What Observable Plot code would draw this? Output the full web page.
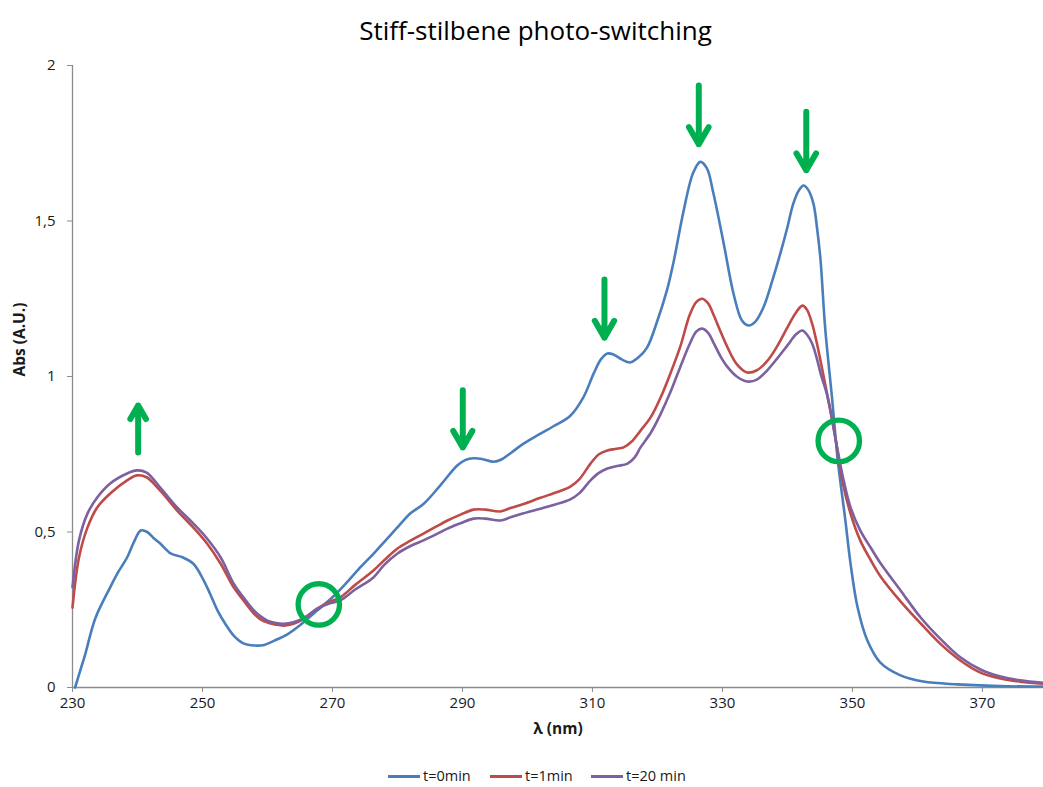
<!DOCTYPE html>
<html>
<head>
<meta charset="utf-8">
<script src="https://cdn.jsdelivr.net/npm/d3@7"></script>
<script src="https://cdn.jsdelivr.net/npm/@observablehq/plot@0.6"></script>
<style>
  html, body { margin: 0; padding: 0; background: #fff; }
  body { width: 1043px; height: 787px; overflow: hidden; font-family: "Open Sans", sans-serif; }
  #title { height: 50px; box-sizing: border-box; padding-top: 11px; padding-left: 28px; text-align: center; font-size: 26px; line-height: 38px; color: #000; }
  #chart svg text { fill: #1a1a1a; }
  #chart svg g[aria-label*="axis"] line, #chart svg g[aria-label*="axis"] path { stroke: #8c8c8c; }
  #legend { position: relative; height: 37px; }
  .item { position: absolute; top: 16px; display: flex; align-items: center; font-size: 14.5px; color: #1a1a1a; line-height: 20px; }
  .sw { display: inline-block; width: 32px; height: 3px; margin-right: 3px; }
</style>
</head>
<body>
<div id="title">Stiff-stilbene photo-switching</div>
<div id="chart"></div>
<div id="legend"></div>
<script>
// ---- data ----
const seriesNames = ["t=0min", "t=1min", "t=20 min"];
const seriesColors = ["#4a7ebb", "#be4b48", "#7d60a0"];
const xTicks = [230, 250, 270, 290, 310, 330, 350, 370];
const yTicks = [0, 0.5, 1, 1.5, 2];
const xLabel = "λ (nm)";
const yLabel = "Abs (A.U.)";

const wl0 = [230.4, 231.2, 232.0, 233.5, 235.8, 237.0, 238.4, 239.5, 240.5, 241.5, 242.5, 243.5, 245.1, 247.0, 248.6, 250.2, 251.2, 252.3, 253.5, 254.8, 256.3, 258.0, 259.5, 261.0, 263.0, 265.0, 267.5, 270.0, 272.0, 274.0, 276.3, 278.5, 280.5, 282.0, 284.0, 286.6, 289.2, 290.5, 291.7, 293.0, 294.8, 296.0, 297.5, 299.4, 302.0, 304.0, 306.6, 308.6, 310.2, 311.3, 312.3, 313.3, 314.5, 315.8, 317.0, 318.4, 320.0, 321.5, 322.5, 324.0, 325.5, 326.6, 327.6, 328.6, 330.2, 331.7, 333.0, 334.0, 335.0, 336.3, 337.7, 338.9, 340.0, 340.9, 341.8, 342.5, 343.2, 344.0, 344.6, 345.1, 345.8, 346.9, 347.4, 347.8, 348.9, 349.7, 350.8, 352.3, 354.3, 357.4, 360.9, 366.2, 373.8, 379.4];
const abs0 = [0.0, 0.055, 0.11, 0.222, 0.322, 0.37, 0.418, 0.47, 0.505, 0.50, 0.48, 0.463, 0.431, 0.418, 0.398, 0.344, 0.30, 0.248, 0.205, 0.167, 0.142, 0.135, 0.137, 0.15, 0.17, 0.2, 0.245, 0.29, 0.333, 0.38, 0.43, 0.48, 0.527, 0.56, 0.59, 0.65, 0.714, 0.732, 0.737, 0.735, 0.726, 0.733, 0.755, 0.784, 0.816, 0.84, 0.874, 0.933, 1.01, 1.055, 1.074, 1.07, 1.055, 1.045, 1.06, 1.093, 1.18, 1.28, 1.37, 1.53, 1.655, 1.69, 1.67, 1.59, 1.427, 1.267, 1.18, 1.164, 1.175, 1.222, 1.31, 1.395, 1.48, 1.556, 1.60, 1.614, 1.60, 1.556, 1.47, 1.373, 1.158, 0.923, 0.805, 0.72, 0.54, 0.40, 0.257, 0.151, 0.08, 0.039, 0.019, 0.01, 0.004, 0.003];

const wl1 = [230.0, 231.0, 232.3, 233.8, 235.8, 238.4, 239.9, 241.4, 243.5, 246.1, 248.6, 250.7, 252.8, 254.8, 256.3, 257.9, 259.0, 260.0, 261.3, 262.5, 264.0, 265.5, 267.7, 269.5, 271.2, 273.5, 276.3, 278.0, 280.0, 282.0, 284.0, 286.0, 287.7, 289.7, 291.7, 293.5, 295.8, 297.5, 299.4, 302.0, 304.5, 306.6, 308.0, 309.7, 311.0, 312.3, 313.5, 314.8, 316.0, 317.4, 319.0, 320.5, 322.0, 323.5, 325.0, 326.0, 326.9, 327.8, 328.6, 329.7, 330.8, 332.2, 333.8, 335.3, 336.9, 338.5, 340.0, 341.3, 342.3, 343.0, 343.8, 344.5, 345.1, 346.3, 347.4, 348.5, 349.7, 351.2, 352.8, 354.3, 357.4, 360.5, 363.5, 366.6, 369.7, 372.8, 375.8, 379.4];
const abs1 = [0.257, 0.418, 0.514, 0.579, 0.624, 0.666, 0.682, 0.676, 0.633, 0.569, 0.514, 0.463, 0.398, 0.322, 0.28, 0.238, 0.218, 0.209, 0.202, 0.199, 0.205, 0.22, 0.254, 0.275, 0.29, 0.33, 0.376, 0.41, 0.447, 0.472, 0.495, 0.518, 0.537, 0.556, 0.572, 0.572, 0.566, 0.578, 0.59, 0.61, 0.628, 0.646, 0.67, 0.72, 0.75, 0.762, 0.767, 0.772, 0.79, 0.826, 0.87, 0.933, 1.01, 1.095, 1.20, 1.24, 1.25, 1.235, 1.20, 1.145, 1.093, 1.04, 1.013, 1.02, 1.05, 1.10, 1.158, 1.205, 1.228, 1.215, 1.17, 1.11, 1.05, 0.923, 0.80, 0.66, 0.56, 0.473, 0.41, 0.358, 0.277, 0.206, 0.141, 0.087, 0.048, 0.029, 0.019, 0.012];

const wl20 = [230.0, 231.0, 232.3, 233.8, 235.8, 238.4, 239.9, 241.4, 243.5, 246.1, 248.6, 250.7, 252.8, 254.8, 256.3, 257.9, 259.0, 260.0, 261.3, 262.5, 264.0, 265.5, 267.7, 269.5, 271.2, 273.5, 276.3, 278.0, 280.0, 282.0, 284.0, 286.0, 287.7, 289.7, 291.7, 293.5, 295.8, 297.5, 299.4, 302.0, 304.5, 306.6, 308.0, 309.7, 311.0, 312.3, 313.8, 315.4, 316.5, 317.4, 319.0, 320.5, 322.0, 323.5, 325.0, 326.0, 326.9, 327.8, 328.6, 329.7, 330.8, 332.2, 333.8, 335.3, 336.9, 338.5, 340.0, 341.3, 342.3, 343.0, 343.8, 344.5, 345.1, 346.2, 347.4, 348.5, 349.7, 351.2, 352.8, 354.3, 357.4, 360.5, 363.5, 366.6, 369.7, 372.8, 375.8, 379.4];
const abs20 = [0.322, 0.473, 0.559, 0.611, 0.656, 0.688, 0.698, 0.691, 0.643, 0.579, 0.527, 0.479, 0.418, 0.334, 0.29, 0.248, 0.228, 0.215, 0.207, 0.205, 0.21, 0.222, 0.254, 0.27, 0.28, 0.315, 0.354, 0.395, 0.431, 0.455, 0.473, 0.493, 0.511, 0.528, 0.543, 0.543, 0.537, 0.548, 0.56, 0.575, 0.59, 0.605, 0.625, 0.666, 0.69, 0.704, 0.712, 0.72, 0.74, 0.772, 0.82, 0.88, 0.95, 1.03, 1.106, 1.145, 1.154, 1.14, 1.11, 1.065, 1.03, 1.0, 0.984, 0.99, 1.02, 1.06, 1.10, 1.135, 1.148, 1.135, 1.106, 1.06, 1.01, 0.933, 0.80, 0.68, 0.58, 0.505, 0.45, 0.40, 0.312, 0.225, 0.157, 0.097, 0.058, 0.035, 0.023, 0.015];

// annotations (green arrows and isosbestic circles)
const arrowX = [240.1, 290.05, 311.85, 326.36, 342.9];
const arrowFrom = [0.756, 0.956, 1.312, 1.936, 1.851];
const arrowTo = [0.907, 0.772, 1.125, 1.747, 1.663];
const circleX = [267.9, 347.9];
const circleY = [0.267, 0.793];

// ---- build table ----
const wls = [wl0, wl1, wl20];
const absv = [abs0, abs1, abs20];
const table = [];
seriesNames.forEach((s, i) => wls[i].forEach((w, j) => table.push({series: s, wl: w, abs: absv[i][j]})));
const arrows = arrowX.map((x, i) => ({x, y1: arrowFrom[i], y2: arrowTo[i]}));
const circles = circleX.map((x, i) => ({x, y: circleY[i]}));

const chart = Plot.plot({
  width: 1043,
  height: 700,
  marginTop: 15,
  marginBottom: 63,
  marginLeft: 72,
  marginRight: 0,
  style: {fontFamily: "'Open Sans', sans-serif", fontSize: "15px", color: "#1a1a1a", background: "#fff"},
  x: {domain: [230, 379.4], ticks: xTicks, tickSize: 5, tickPadding: 5, label: null},
  y: {domain: [0, 2], ticks: yTicks, tickFormat: d => String(d).replace(".", ","), tickSize: 5, tickPadding: 12, label: null},
  color: {domain: seriesNames, range: seriesColors},
  marks: [
    Plot.ruleX([230], {stroke: "#8c8c8c", strokeWidth: 1.3}),
    Plot.ruleY([0], {stroke: "#8c8c8c", strokeWidth: 1.3}),
    Plot.line(table, {x: "wl", y: "abs", z: "series", stroke: "series", strokeWidth: 2.6, curve: "catmull-rom"}),
    Plot.arrow(arrows, {x1: "x", x2: "x", y1: "y1", y2: "y2", stroke: "#00b050", strokeWidth: 6, headLength: 5, headAngle: 60}),
    Plot.dot(circles, {x: "x", y: "y", r: 20.7, stroke: "#00b050", strokeWidth: 5.3, fill: "none"}),
    Plot.text([yLabel], {frameAnchor: "left", dx: -52, rotate: -90, fontWeight: "bold", fontSize: 15.5}),
    Plot.text([xLabel], {frameAnchor: "bottom", dy: 46, fontWeight: "bold", fontSize: 15.5})
  ]
});
document.getElementById("chart").appendChild(chart);

// legend
const legend = document.getElementById("legend");
const lefts = [388, 490, 591];
seriesNames.forEach((s, i) => {
  const it = document.createElement("div");
  it.className = "item";
  it.style.left = lefts[i] + "px";
  const sw = document.createElement("span");
  sw.className = "sw";
  sw.style.background = seriesColors[i];
  const t = document.createElement("span");
  t.textContent = s;
  it.appendChild(sw); it.appendChild(t);
  legend.appendChild(it);
});
</script>
</body>
</html>
